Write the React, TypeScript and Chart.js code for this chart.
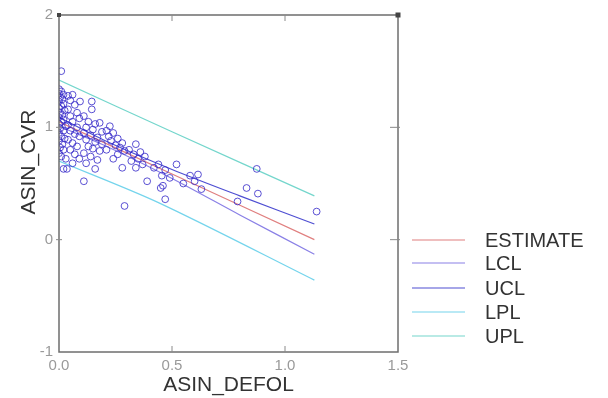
import React, { useEffect, useRef } from "react";
import { Chart, registerables } from "chart.js";

Chart.register(...registerables);

// Observed data (ASIN_DEFOL vs ASIN_CVR)
const obsX = [
  0.01, 0.0, 0.01, 0.0, 0.02, 0.005, 0.015, 0.0, 0.02, 0.01, 0.0, 0.025, 0.005, 0.015, 0.0, 0.02, 0.01, 0.0, 0.03, 0.005, 0.02, 0.0, 0.01, 0.025, 0.0, 0.015, 0.005, 0.02, 0.0, 0.01, 0.03, 0.02, 0.035,
  0.04, 0.06, 0.05, 0.07, 0.04, 0.08, 0.05, 0.09, 0.06, 0.04, 0.08, 0.05, 0.07, 0.09, 0.04, 0.06, 0.08, 0.05, 0.07, 0.09, 0.06, 0.093,
  0.145, 0.145, 0.11, 0.13, 0.16, 0.18, 0.12, 0.15, 0.19, 0.11, 0.14, 0.17, 0.12, 0.16, 0.19, 0.13, 0.15, 0.18, 0.11, 0.14, 0.17, 0.16, 0.11, 0.12,
  0.225, 0.21, 0.24, 0.22, 0.26, 0.23, 0.28, 0.25, 0.27, 0.21, 0.26, 0.29, 0.24, 0.28, 0.29,
  0.34, 0.31, 0.36, 0.33, 0.38, 0.35, 0.32, 0.34, 0.39, 0.37,
  0.44, 0.42, 0.47, 0.455, 0.49, 0.52, 0.55, 0.58, 0.615, 0.46, 0.63, 0.47, 0.45, 0.6,
  0.79, 0.83, 0.88, 0.875, 1.14,
];
const obsY = [
  1.5, 1.34, 1.32, 1.3, 1.29, 1.27, 1.25, 1.23, 1.21, 1.19, 1.17, 1.15, 1.13, 1.11, 1.09, 1.07, 1.05, 1.03, 1.01, 0.99, 0.97, 0.95, 0.92, 0.9, 0.88, 0.85, 0.82, 0.8, 0.77, 0.74, 0.72, 0.63, 0.63,
  1.28, 1.29, 1.24, 1.2, 1.16, 1.13, 1.1, 1.08, 1.05, 1.02, 1.0, 0.97, 0.94, 0.92, 0.89, 0.86, 0.83, 0.8, 0.76, 0.72, 0.68, 1.23,
  1.23, 1.16, 1.1, 1.05, 1.03, 1.04, 1.0, 0.98, 0.96, 0.95, 0.93, 0.91, 0.89, 0.87, 0.85, 0.83, 0.81, 0.79, 0.77, 0.74, 0.71, 0.63, 0.52, 0.68,
  1.01, 0.97, 0.95, 0.92, 0.9, 0.88, 0.86, 0.84, 0.82, 0.8, 0.76, 0.79, 0.72, 0.64, 0.3,
  0.85, 0.8, 0.78, 0.76, 0.74, 0.72, 0.7, 0.64, 0.52, 0.67,
  0.67, 0.64, 0.62, 0.57, 0.55, 0.67, 0.5, 0.57, 0.58, 0.48, 0.45, 0.36, 0.46, 0.52,
  0.34, 0.46, 0.41, 0.63, 0.25,
];

// Fitted lines
const estX = [0, 0.5, 1.13];
const estY = [1.05, 0.585, 0.0];
const clX = [0, 0.2, 0.5, 0.8, 1.13];
const lclY = [1.01, 0.84, 0.545, 0.22, -0.13];
const uclY = [1.09, 0.885, 0.625, 0.39, 0.14];
const uplX = [0, 0.5, 1.13];
const uplY = [1.42, 0.96, 0.39];
const lplX = [0, 0.44, 1.13];
const lplY = [0.7, 0.33, -0.36];

const xTicks = [0, 0.5, 1.0, 1.5];
const yTicks = [-1, 0, 1, 2];

const legendNames = ["ESTIMATE", "LCL", "UCL", "LPL", "UPL"];
const lineColors = ["#e07f7f", "#8a80e6", "#4e4ed2", "#74d4ec", "#74d6cc"];

const zip = (xs: number[], ys: number[]) => xs.map((x, i) => ({ x, y: ys[i] }));

export default function App() {
  const ref = useRef<HTMLCanvasElement | null>(null);

  useEffect(() => {
    if (!ref.current) return;

    const framePlugin = {
      id: "framePlugin",
      afterDraw(chart: any) {
        const ctx = chart.ctx as CanvasRenderingContext2D;
        const { left, right, top, bottom } = chart.chartArea;
        const xs = chart.scales.x;
        const ys = chart.scales.y;
        ctx.save();
        // frame
        ctx.strokeStyle = "#6e6e6e";
        ctx.lineWidth = 1.5;
        ctx.strokeRect(left, top, right - left, bottom - top);
        // inner ticks
        ctx.lineWidth = 1;
        ctx.strokeStyle = "#8a8a8a";
        [0.5, 1.0].forEach((v) => {
          const px = xs.getPixelForValue(v);
          ctx.beginPath();
          ctx.moveTo(px, top);
          ctx.lineTo(px, top + 6);
          ctx.moveTo(px, bottom);
          ctx.lineTo(px, bottom - 6);
          ctx.stroke();
        });
        [0, 1].forEach((v) => {
          const py = ys.getPixelForValue(v);
          ctx.beginPath();
          ctx.moveTo(left - 3, py);
          ctx.lineTo(left + 3, py);
          ctx.moveTo(right + 2, py);
          ctx.lineTo(right - 8, py);
          ctx.stroke();
        });
        // corner squares
        ctx.fillStyle = "#444";
        ctx.fillRect(left - 2, top - 2, 4, 4);
        ctx.fillRect(right - 2.5, top - 2.5, 5, 5);

        // axis titles
        ctx.fillStyle = "#333";
        ctx.font = "21px 'Liberation Sans', Arial, sans-serif";
        ctx.textAlign = "center";
        ctx.textBaseline = "middle";
        ctx.fillText("ASIN_DEFOL", (left + right) / 2, 385);
        ctx.save();
        ctx.translate(29, 162);
        ctx.rotate(-Math.PI / 2);
        ctx.fillText("ASIN_CVR", 0, 0);
        ctx.restore();

        // legend
        const legendY = [240, 263, 288, 312, 336];
        ctx.font = "20px 'Liberation Sans', Arial, sans-serif";
        ctx.textAlign = "left";
        legendNames.forEach((name, i) => {
          ctx.strokeStyle = lineColors[i];
          ctx.lineWidth = 1.2;
          ctx.beginPath();
          ctx.moveTo(412, legendY[i]);
          ctx.lineTo(465, legendY[i]);
          ctx.stroke();
          ctx.fillStyle = "#333";
          ctx.fillText(name, 485, legendY[i] + 1);
        });
        ctx.restore();
      },
    };

    const lineDs = (label: string, data: any[], color: string) => ({
      type: "line" as const,
      label,
      data,
      showLine: true,
      borderColor: color,
      borderWidth: 1.2,
      pointRadius: 0,
      fill: false,
      tension: 0.3,
    });

    const chart = new Chart(ref.current, {
      type: "scatter",
      data: {
        datasets: [
          {
            label: "obs",
            data: zip(obsX, obsY),
            pointStyle: "circle",
            pointRadius: 3.4,
            pointBorderWidth: 1,
            pointBorderColor: "rgba(50,38,200,0.8)",
            pointBackgroundColor: "rgba(0,0,0,0)",
            order: 0,
          } as any,
          lineDs("ESTIMATE", zip(estX, estY), lineColors[0]),
          lineDs("LCL", zip(clX, lclY), lineColors[1]),
          lineDs("UCL", zip(clX, uclY), lineColors[2]),
          lineDs("LPL", zip(lplX, lplY), lineColors[3]),
          lineDs("UPL", zip(uplX, uplY), lineColors[4]),
        ],
      },
      options: {
        responsive: false,
        animation: false,
        layout: { padding: { top: 13, right: 210, left: 0, bottom: 0 } },
        plugins: { legend: { display: false }, tooltip: { enabled: false } },
        scales: {
          x: {
            type: "linear",
            min: 0,
            max: 1.5,
            afterBuildTicks: (s: any) => {
              s.ticks = xTicks.map((v) => ({ value: v }));
            },
            afterFit: (s: any) => {
              s.height = 46;
            },
            grid: { display: false, drawTicks: false },
            border: { display: false },
            ticks: {
              padding: 5,
              color: "#9a9a9a",
              font: { size: 15, family: "'Liberation Sans', Arial, sans-serif" },
              callback: (v: any) => Number(v).toFixed(1),
              maxRotation: 0,
            },
          },
          y: {
            type: "linear",
            min: -1,
            max: 2,
            afterBuildTicks: (s: any) => {
              s.ticks = yTicks.map((v) => ({ value: v }));
            },
            afterFit: (s: any) => {
              s.width = 59;
            },
            grid: { display: false, drawTicks: false },
            border: { display: false },
            ticks: {
              padding: 6,
              color: "#9a9a9a",
              font: { size: 15, family: "'Liberation Sans', Arial, sans-serif" },
              callback: (v: any) => String(v),
            },
          },
        },
      },
      plugins: [framePlugin],
    } as any);

    return () => chart.destroy();
  }, []);

  return (
    <div style={{ position: "fixed", left: 0, top: 0, width: 608, height: 398, background: "#fff" }}>
      <canvas ref={ref} width={608} height={398} style={{ display: "block" }} />
    </div>
  );
}
